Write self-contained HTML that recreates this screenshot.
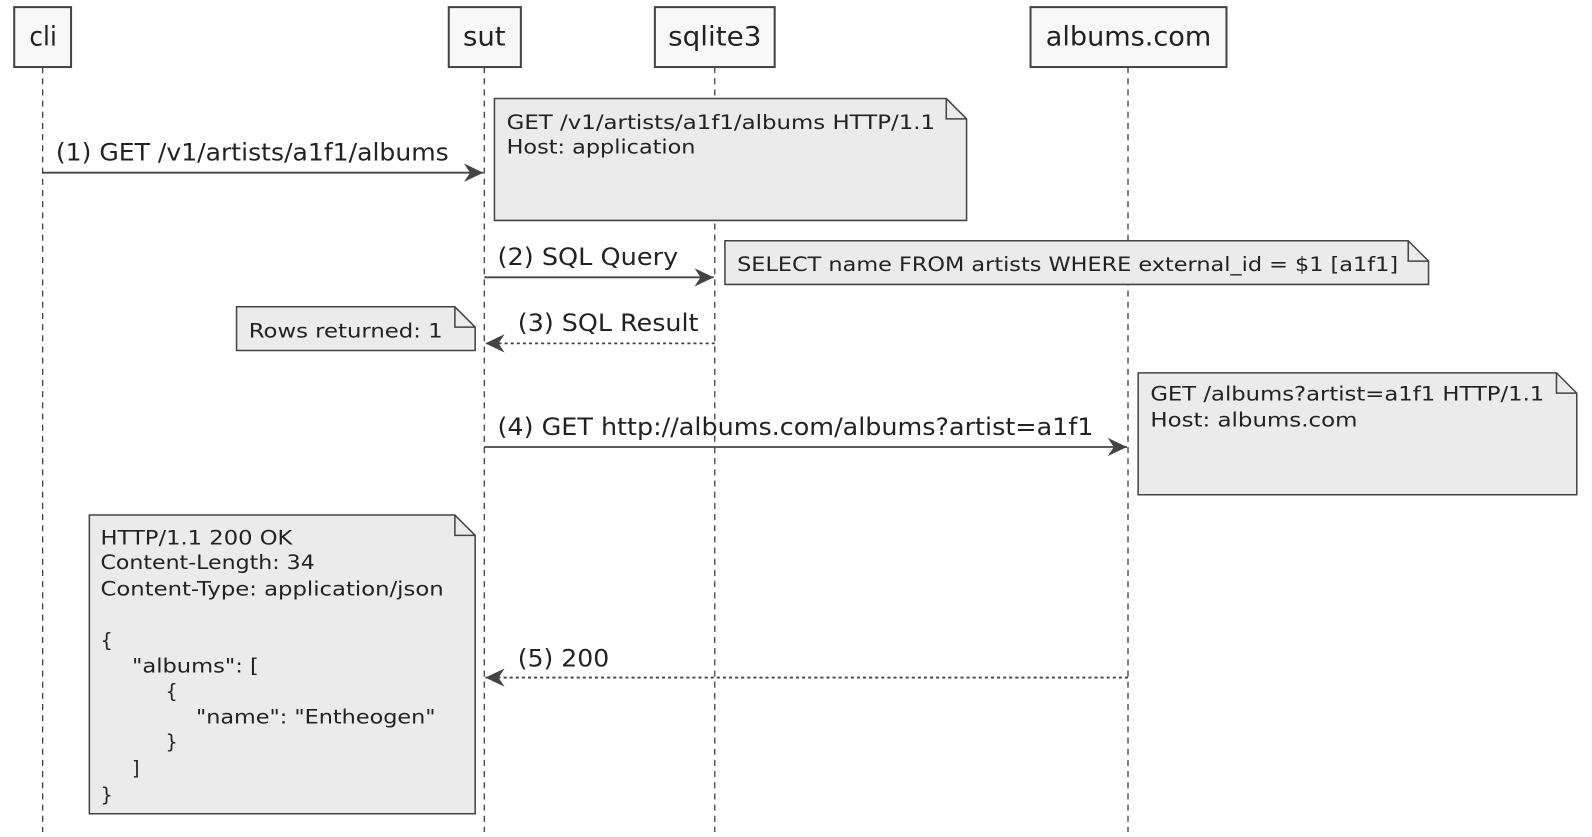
<!DOCTYPE html>
<html><head><style>html,body{margin:0;padding:0;background:#fff;overflow:hidden}</style></head>
<body>
<svg width="1592" height="832" viewBox="0 0 1568 819" preserveAspectRatio="none" xmlns="http://www.w3.org/2000/svg" font-family="DejaVu Sans, Liberation Sans, sans-serif">
<defs>
<marker id="ah" markerWidth="20" markerHeight="18" refX="19" refY="9" orient="auto" markerUnits="userSpaceOnUse">
<path d="M0,0 L19,9 L0,18 L6,9 Z" fill="#444"/></marker>
</defs>
<g stroke="#444" stroke-width="1.3" stroke-dasharray="6,5">
<line x1="42" y1="66" x2="42" y2="819"/>
<line x1="477" y1="66" x2="477" y2="819"/>
<line x1="704" y1="66" x2="704" y2="819"/>
<line x1="1111" y1="66" x2="1111" y2="819"/>
</g>
<g fill="#f8f8f8" stroke="#444" stroke-width="2">
<rect x="14" y="7" width="56" height="59"/>
<rect x="442" y="7" width="71" height="59"/>
<rect x="645" y="7" width="118" height="59"/>
<rect x="1015" y="7" width="193" height="59"/>
</g>
<g font-size="26" fill="#222">
<text x="29" y="45" textLength="27" lengthAdjust="spacingAndGlyphs">cli</text>
<text x="456" y="45" textLength="42" lengthAdjust="spacingAndGlyphs">sut</text>
<text x="658" y="45" textLength="92" lengthAdjust="spacingAndGlyphs">sqlite3</text>
<text x="1030" y="45" textLength="163" lengthAdjust="spacingAndGlyphs">albums.com</text>
</g>
<g fill="#ebebeb" stroke="#444" stroke-width="1.5">
<path d="M487,97 H932 L952,117 V217 H487 Z"/><path d="M932,97 V117 H952" fill="none"/>
<path d="M714,237 H1387 L1407,257 V280 H714 Z"/><path d="M1387,237 V257 H1407" fill="none"/>
<path d="M233,302 H448 L468,322 V345 H233 Z"/><path d="M448,302 V322 H468" fill="none"/>
<path d="M1121,367 H1533 L1553,387 V487 H1121 Z"/><path d="M1533,367 V387 H1553" fill="none"/>
<path d="M88,507 H448 L468,527 V801 H88 Z"/><path d="M448,507 V527 H468" fill="none"/>
</g>
<g font-size="19" fill="#222">
<text x="499" y="127" textLength="422" lengthAdjust="spacingAndGlyphs">GET /v1/artists/a1f1/albums HTTP/1.1</text>
<text x="499" y="151" textLength="186" lengthAdjust="spacingAndGlyphs">Host: application</text>
<text x="726" y="267" textLength="651" lengthAdjust="spacingAndGlyphs">SELECT name FROM artists WHERE external_id = $1 [a1f1]</text>
<text x="245" y="332" textLength="191" lengthAdjust="spacingAndGlyphs">Rows returned: 1</text>
<text x="1133" y="394" textLength="388" lengthAdjust="spacingAndGlyphs">GET /albums?artist=a1f1 HTTP/1.1</text>
<text x="1133" y="420" textLength="204" lengthAdjust="spacingAndGlyphs">Host: albums.com</text>
<text x="99" y="536" textLength="189" lengthAdjust="spacingAndGlyphs">HTTP/1.1 200 OK</text>
<text x="99" y="560" textLength="211" lengthAdjust="spacingAndGlyphs">Content-Length: 34</text>
<text x="99" y="586" textLength="338" lengthAdjust="spacingAndGlyphs">Content-Type: application/json</text>
<text x="99" y="637">{</text>
<text x="130" y="662" textLength="125" lengthAdjust="spacingAndGlyphs">"albums": [</text>
<text x="163" y="687">{</text>
<text x="193" y="712" textLength="236" lengthAdjust="spacingAndGlyphs">"name": "Entheogen"</text>
<text x="163" y="737">}</text>
<text x="130" y="763">]</text>
<text x="99" y="789">}</text>
</g>
<g stroke="#444" stroke-width="1.8" fill="none">
<line x1="42" y1="170" x2="476" y2="170" marker-end="url(#ah)"/>
<line x1="477" y1="273" x2="703" y2="273" marker-end="url(#ah)"/>
<line x1="704" y1="338" x2="478" y2="338" stroke-dasharray="3,3" marker-end="url(#ah)"/>
<line x1="477" y1="440" x2="1110" y2="440" marker-end="url(#ah)"/>
<line x1="1111" y1="667" x2="478" y2="667" stroke-dasharray="3,3" marker-end="url(#ah)"/>
</g>
<g font-size="24" fill="#222">
<text x="55" y="158" textLength="387" lengthAdjust="spacingAndGlyphs">(1) GET /v1/artists/a1f1/albums</text>
<text x="490" y="261" textLength="178" lengthAdjust="spacingAndGlyphs">(2) SQL Query</text>
<text x="510" y="326" textLength="178" lengthAdjust="spacingAndGlyphs">(3) SQL Result</text>
<text x="490" y="428" textLength="587" lengthAdjust="spacingAndGlyphs">(4) GET http://albums.com/albums?artist=a1f1</text>
<text x="510" y="656" textLength="90" lengthAdjust="spacingAndGlyphs">(5) 200</text>
</g>
</svg>
</body></html>
